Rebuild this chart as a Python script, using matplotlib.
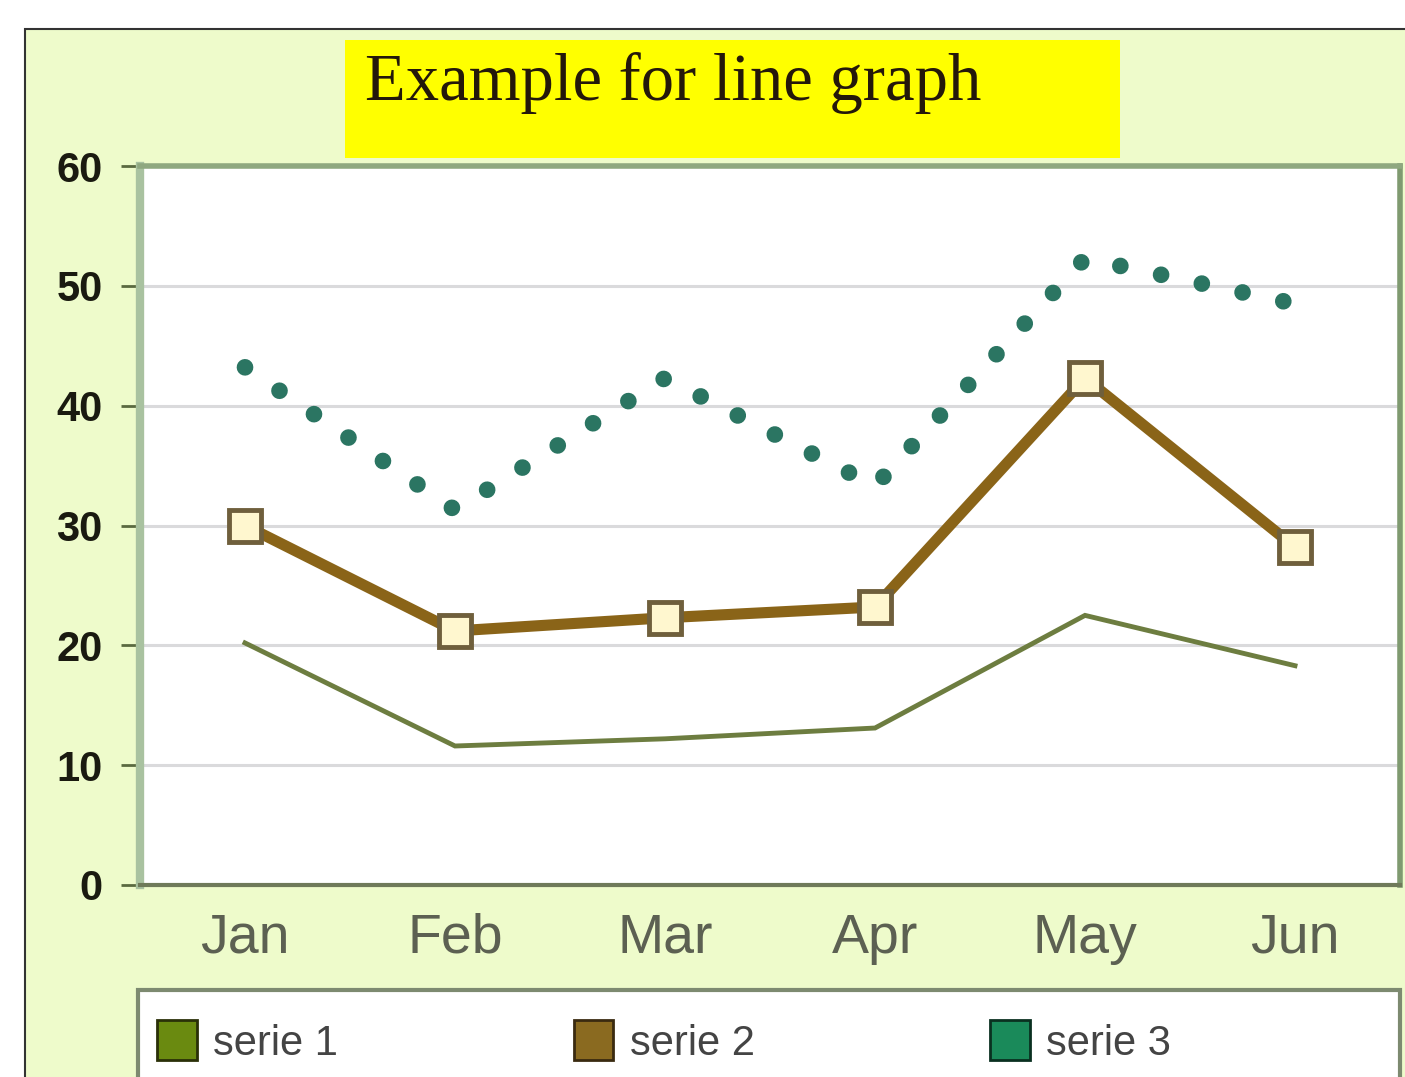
import matplotlib
matplotlib.use('Agg')
import matplotlib.pyplot as plt
from matplotlib.patches import Rectangle, Patch

# data
months = ['Jan', 'Feb', 'Mar', 'Apr', 'May', 'Jun']
serie1 = [20.2, 11.6, 12.2, 13.1, 22.5, 18.3]
serie2 = [30.0, 21.2, 22.3, 23.2, 42.3, 28.2]
serie3 = [43.2, 31.3, 42.3, 33.3, 52.3, 48.5]
yticks = [0, 10, 20, 30, 40, 50, 60]
labels = ['serie 1', 'serie 2', 'serie 3']

W, H = 1405, 1077
bg = '#eefbcb'

fig = plt.figure(figsize=(W / 100, H / 100), dpi=100)
fig.patch.set_facecolor('white')

# outer panel with a thin dark border on left/top
fig.patches.append(Rectangle((25 / W, -0.05), 1.1, 1 - 29 / H + 0.05,
                             transform=fig.transFigure, facecolor=bg,
                             edgecolor='#333333', lw=1.5, zorder=-10))

# yellow title box
fig.patches.append(Rectangle((345 / W, 1 - 158 / H), 775 / W, 118 / H,
                             transform=fig.transFigure, facecolor='#ffff00',
                             edgecolor='none', zorder=1))
fig.text(365 / W, 1 - 100 / H, 'Example for line graph', fontsize=48,
         family='Liberation Serif', color='#24180a', va='baseline', ha='left')

ax = fig.add_axes([140 / W, 1 - 885 / H, 1260 / W, 719 / H])
ax.set_zorder(2)
ax.set_facecolor('white')
x = list(range(len(months)))

ax.plot(x, serie1, color='#6d7d40', lw=3.5, solid_joinstyle='miter', zorder=3)
ax.plot(x, serie2, color='#8a6418', lw=8, marker='s', markersize=23,
        markerfacecolor='#fff7cf', markeredgecolor='#6f5f3c', markeredgewidth=3.5,
        solid_joinstyle='miter', zorder=4)
ax.plot(x, serie3, color='#2b7562', lw=12, linestyle=(0, (0.001, 2.5)),
        dash_capstyle='round', zorder=5)

ax.set_xlim(-0.5, 5.5)
ax.set_ylim(0, 60)
ax.set_xticks(x)
ax.set_xticklabels(months)
ax.set_yticks(yticks)
ax.set_yticklabels([str(v) for v in yticks])
for lab in ax.get_yticklabels():
    lab.set_fontweight('bold')
    lab.set_family('Liberation Sans')
for lab in ax.get_xticklabels():
    lab.set_family('Liberation Sans')

ax.tick_params(axis='y', length=14, width=2, color='#5a6a40', pad=13,
               labelsize=30, labelcolor='#1a1a10')
ax.tick_params(axis='x', length=0, pad=20, labelsize=40, labelcolor='#5c6052')

for v in yticks[1:-1]:
    ax.axhline(v, color='#dadadc', lw=2.2, zorder=1)

ax.spines['left'].set_color('#a9c2a0')
ax.spines['left'].set_linewidth(6)
ax.spines['top'].set_color('#8fa880')
ax.spines['top'].set_linewidth(4)
ax.spines['bottom'].set_color('#6f7a5a')
ax.spines['bottom'].set_linewidth(3)
ax.spines['right'].set_color('#7f9a70')
ax.spines['right'].set_linewidth(4)

# legend box at the bottom
fig.patches.append(Rectangle((138 / W, -0.05), (1400 - 138) / W, 1 - 990 / H + 0.05,
                             transform=fig.transFigure, facecolor='white',
                             edgecolor='#7d8a70', lw=3, zorder=1))
handles = [Patch(facecolor='#6a8a10', edgecolor='#2a3008', lw=2),
           Patch(facecolor='#8a6a20', edgecolor='#3a2a10', lw=2),
           Patch(facecolor='#1a8a5a', edgecolor='#0a3020', lw=2)]
leg = fig.legend(handles, labels, ncol=3, loc='center left',
                 bbox_to_anchor=(157 / W, 1 - 1042 / H), frameon=False,
                 fontsize=30, handlelength=0.95, handleheight=1.1,
                 handletextpad=0.4, columnspacing=5.65, borderpad=0,
                 borderaxespad=0, labelcolor='#444444',
                 prop={'family': 'Liberation Sans', 'size': 30})

fig.savefig('out.png', dpi=100)
